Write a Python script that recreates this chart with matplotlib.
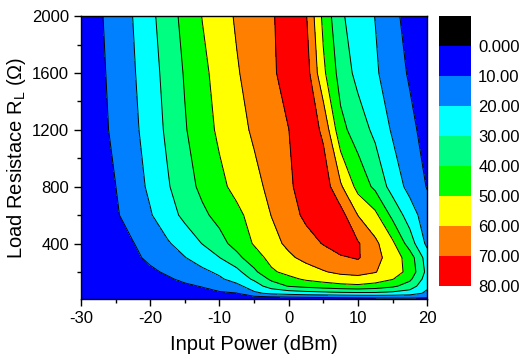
import matplotlib
matplotlib.use("Agg")
import numpy as np
from matplotlib import pyplot as plt
from matplotlib.ticker import MultipleLocator

plt.rcParams["font.family"] = ["Liberation Sans", "DejaVu Sans"]
plt.rcParams["mathtext.fontset"] = "custom"
plt.rcParams["mathtext.rm"] = "Liberation Sans"
plt.rcParams["axes.unicode_minus"] = False

# input power (dBm), columns of the grid
power = [-30, -27.5, -25, -22.5, -20, -17.5, -15, -12.5, -10, -7.5, -5,
         -2.5, 0, 2.5, 5, 7.5, 10, 12.5, 15, 17.5, 20]
# load resistance (ohm), rows of the grid
load = [10, 50, 100, 150, 200, 300, 400, 600, 800, 1200, 1600, 2000]
# efficiency (%), one row per load value
efficiency = [
    [0.0, 0.2, 0.4, 0.6, 0.8, 1.0, 1.3, 1.6, 1.9, 2.3, 2.7, 3.1, 3.6, 4.1, 4.7, 5.3, 5.9, 6.5, 7.0, 7.5, 8.0],
    [0.2, 1.2, 2.2, 3.3, 4.3, 5.4, 6.5, 7.6, 8.7, 9.8, 18.2, 22.0, 24.0, 25.5, 26.5, 27.5, 28.0, 28.0, 27.0, 25.0, 18.0],
    [0.3, 1.7, 3.1, 4.5, 5.9, 7.3, 8.7, 10.4, 13.9, 17.3, 25.0, 34.6, 40.5, 43.0, 45.0, 47.0, 48.0, 46.0, 42.0, 35.3, 22.0],
    [0.5, 2.2, 3.9, 5.6, 7.4, 9.0, 11.6, 15.1, 18.5, 24.0, 31.5, 42.0, 47.4, 51.5, 54.0, 56.0, 57.0, 55.0, 50.5, 42.1, 25.0],
    [0.5, 2.5, 4.6, 6.6, 8.6, 11.1, 14.5, 17.8, 21.8, 27.0, 37.8, 48.5, 52.8, 56.0, 59.3, 62.0, 63.0, 60.5, 54.6, 47.0, 27.0],
    [1.0, 3.5, 6.0, 8.3, 11.6, 15.6, 19.6, 24.6, 29.8, 37.2, 45.7, 52.9, 58.3, 62.5, 65.5, 68.5, 71.0, 63.0, 55.7, 45.2, 25.0],
    [1.0, 3.9, 6.8, 9.6, 14.1, 18.9, 24.4, 30.2, 36.6, 43.6, 50.8, 56.8, 62.0, 66.3, 70.5, 76.5, 71.0, 62.1, 52.0, 35.1, 17.6],
    [1.5, 5.2, 8.9, 13.8, 19.2, 25.9, 32.3, 38.0, 43.0, 47.7, 53.5, 60.2, 66.0, 72.0, 77.0, 74.0, 59.8, 52.4, 37.4, 25.1, 14.2],
    [2.0, 6.0, 9.9, 15.6, 21.8, 29.0, 35.9, 42.2, 47.7, 52.7, 57.3, 62.4, 68.2, 75.0, 76.0, 61.5, 46.7, 37.9, 26.0, 16.8, 9.5],
    [3.0, 7.2, 11.9, 17.6, 24.4, 31.8, 39.2, 45.8, 51.7, 56.7, 61.4, 65.6, 69.9, 77.0, 68.0, 43.0, 35.2, 27.6, 18.8, 12.7, 6.0],
    [3.0, 7.7, 13.0, 18.9, 25.9, 33.3, 40.8, 47.6, 53.6, 59.2, 63.8, 68.3, 74.0, 75.0, 52.1, 35.9, 27.1, 21.3, 15.0, 8.8, 3.5],
    [3.0, 8.4, 14.2, 20.1, 27.5, 35.3, 43.0, 50.2, 55.9, 61.1, 65.0, 68.8, 75.0, 71.0, 47.5, 31.5, 25.2, 19.8, 12.2, 7.0, 3.0],
]
levels = [0, 10, 20, 30, 40, 50, 60, 70, 80]
level_colors = ["#0000FF", "#0080FF", "#00FFFF", "#00FF80", "#00FF00",
                "#FFFF00", "#FF8000", "#FF0000"]
bar_labels = ["0.000", "10.00", "20.00", "30.00", "40.00", "50.00",
              "60.00", "70.00", "80.00"]

X, Y = np.meshgrid(power, load)
Z = np.array(efficiency)

fig = plt.figure(figsize=(5.19, 3.58), dpi=100)
ax = fig.add_axes([0.156, 0.165, 0.667, 0.790])
ax.contourf(X, Y, Z, levels=levels, colors=level_colors)
ax.contour(X, Y, Z, levels=levels[1:-1], colors="black", linewidths=0.7)

ax.set_xlim(-30, 20)
ax.set_ylim(10, 2000)
ax.xaxis.set_major_locator(MultipleLocator(10))
ax.xaxis.set_minor_locator(MultipleLocator(5))
ax.set_yticks([400, 800, 1200, 1600, 2000])
ax.yaxis.set_minor_locator(MultipleLocator(200))
ax.tick_params(which="both", direction="out", labelsize=12, width=1, top=False, right=False)
ax.tick_params(which="major", length=5)
ax.tick_params(which="minor", length=3)
for s in ax.spines.values():
    s.set_linewidth(1)
ax.set_xlabel("Input Power (dBm)", fontsize=14.5, labelpad=7)
ax.set_ylabel(r"Load Resistace R$_\mathrm{L}$ ($\Omega$)", fontsize=14.5, labelpad=3)

# colour scale, 0 at the top, black block for below 0
cax = fig.add_axes([0.846, 0.201, 0.062, 0.754])
bar_colors = ["black"] + level_colors
cax.bar([0] * len(bar_colors), [1] * len(bar_colors), bottom=range(len(bar_colors)),
        width=1, color=bar_colors)
cax.set_xlim(-0.5, 0.5)
cax.set_ylim(len(bar_colors), 0)
cax.set_xticks([])
cax.yaxis.tick_right()
cax.set_yticks(range(1, len(bar_colors) + 1))
cax.set_yticklabels(bar_labels)
cax.tick_params(length=0, labelsize=12, pad=5)
for s in cax.spines.values():
    s.set_visible(False)

fig.savefig("out.png", dpi=100)
